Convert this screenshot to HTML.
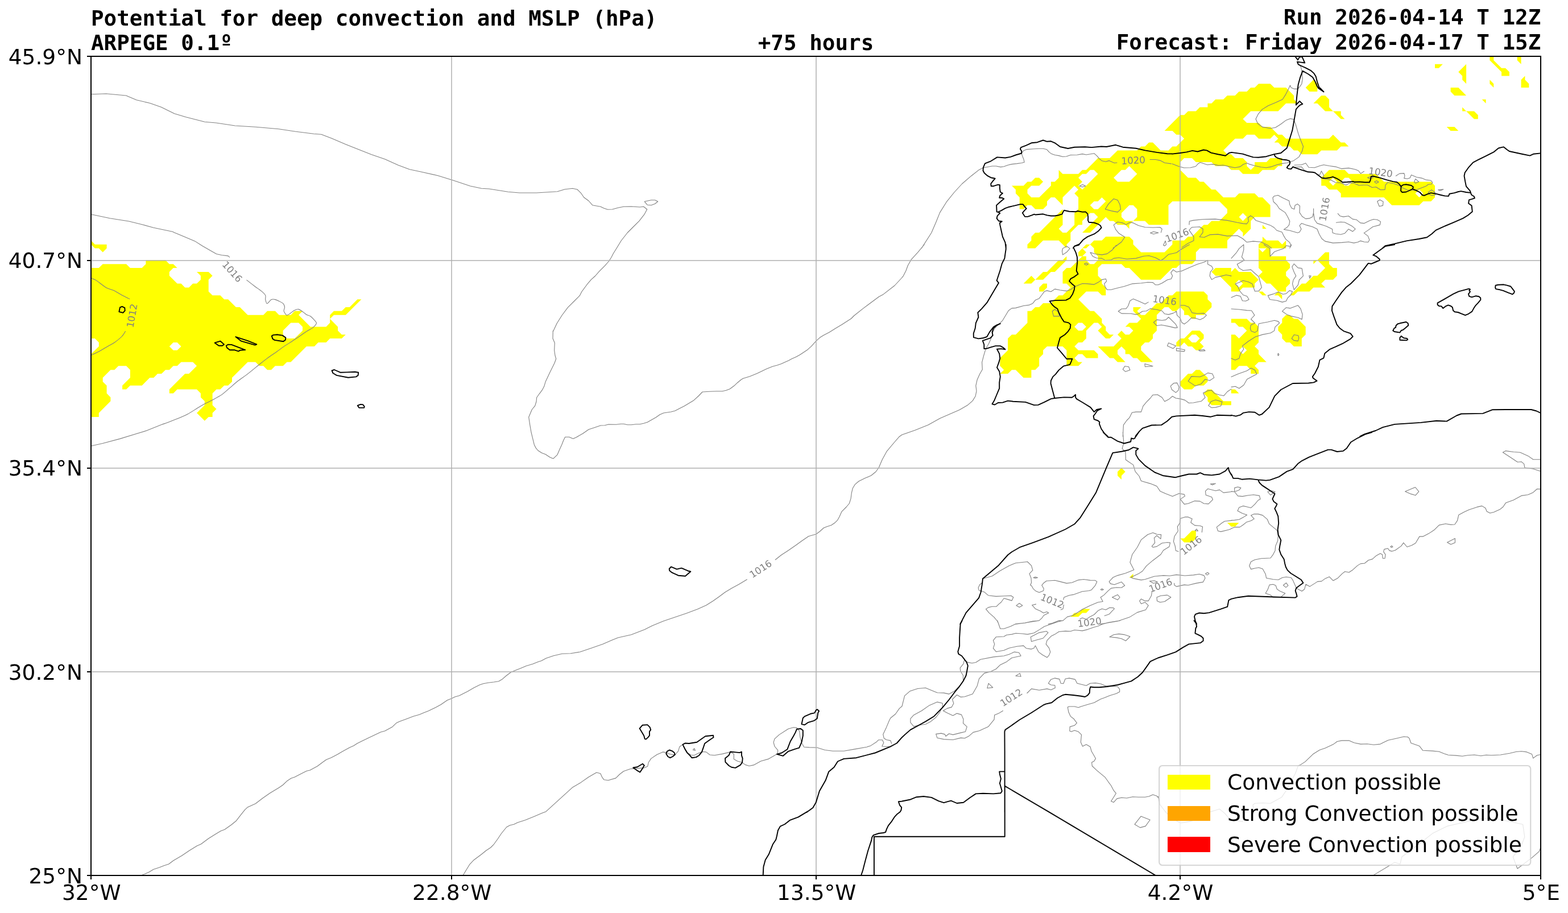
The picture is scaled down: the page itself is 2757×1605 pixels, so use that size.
<!DOCTYPE html>
<html lang="en"><head><meta charset="utf-8"><title>Potential for deep convection and MSLP (hPa)</title>
<style>
html,body{margin:0;padding:0;background:#fff;}
body{width:2757px;height:1605px;overflow:hidden;position:relative;}
svg{position:absolute;left:0;top:0;display:block;}
.t{font-family:"DejaVu Sans Mono","Liberation Mono",monospace;font-weight:bold;font-size:37.6px;fill:#000;}
.k{font-family:"DejaVu Sans","Liberation Sans",sans-serif;font-size:37.5px;fill:#000;}
.c{font-family:"DejaVu Sans","Liberation Sans",sans-serif;font-size:16.7px;fill:#808080;text-anchor:middle;}
.g{fill:none;stroke:#808080;stroke-width:1.1;stroke-linejoin:round;stroke-linecap:round;}
.b{fill:none;stroke:#000;stroke-width:1.9;stroke-linejoin:round;stroke-linecap:round;}
.y{fill:#ffff00;stroke:none;}
</style></head><body>
<svg xmlns="http://www.w3.org/2000/svg" width="2757" height="1605" viewBox="0 0 2757 1605">
<defs><clipPath id="ax"><rect x="160" y="99" width="2549" height="1440"/></clipPath></defs>
<rect x="0" y="0" width="2757" height="1605" fill="#fff"/>
<g clip-path="url(#ax)">
<g class="y">
<path fill-rule="evenodd" d="M1999.4 264.4 1965 264.4 1951.2 278.1 1930.5 278.1 1923.6 285 1909.9 298.8 1903 298.8 1896.1 305.7 1868.5 305.7 1861.6 298.8 1861.6 312.6 1854.7 319.5 1847.9 319.5 1847.9 326.4 1827.2 347 1813.4 347 1806.5 340.1 1806.5 333.3 1813.4 326.4 1827.2 326.4 1834.1 319.5 1827.2 312.6 1820.3 312.6 1813.4 319.5 1806.5 319.5 1799.6 326.4 1779 326.4 1785.9 333.3 1785.9 340.1 1792.7 347 1792.7 367.7 1799.6 367.7 1806.5 360.8 1813.4 360.8 1820.3 367.7 1834.1 367.7 1841 360.8 1841 353.9 1847.9 347 1854.7 347 1868.5 360.8 1868.5 347 1889.2 326.4 1896.1 333.3 1889.2 340.1 1896.1 347 1896.1 367.7 1889.2 374.6 1889.2 395.3 1875.4 409.1 1868.5 409.1 1861.6 402.2 1868.5 395.3 1868.5 367.7 1827.2 409.1 1820.3 409.1 1813.4 415.9 1813.4 422.8 1806.5 429.7 1806.5 436.6 1820.3 436.6 1834.1 422.8 1861.6 422.8 1875.4 436.6 1875.4 429.7 1882.3 422.8 1882.3 409.1 1896.1 395.3 1903 395.3 1903 388.4 1916.7 374.6 1923.6 374.6 1930.5 381.5 1903 409.1 1916.7 409.1 1944.3 381.5 1951.2 388.4 1958.1 388.4 1965 395.3 1978.7 395.3 1985.6 402.2 1985.6 395.3 1992.5 388.4 2013.2 388.4 2020.1 395.3 2054.5 395.3 2054.5 360.8 2061.4 353.9 2144.1 353.9 2157.9 367.7 2157.9 374.6 2144.1 388.4 2130.3 388.4 2123.4 395.3 2116.5 395.3 2095.9 415.9 2089 415.9 2082.1 422.8 2061.4 422.8 2061.4 429.7 2047.6 443.5 2006.3 443.5 1992.5 429.7 1992.5 422.8 1985.6 415.9 1944.3 415.9 1937.4 422.8 1923.6 422.8 1916.7 429.7 1923.6 436.6 1923.6 443.5 1930.5 450.4 1930.5 457.3 1923.6 464.2 1916.7 464.2 1909.9 457.3 1909.9 450.4 1903 450.4 1882.3 471.1 1875.4 471.1 1868.5 477.9 1868.5 498.6 1875.4 498.6 1882.3 505.5 1868.5 519.3 1861.6 519.3 1847.9 533.1 1834.1 533.1 1827.2 540 1820.3 540 1813.4 546.8 1806.5 546.8 1806.5 567.5 1785.9 588.2 1779 588.2 1772.1 595.1 1772.1 615.8 1758.3 629.5 1758.3 643.3 1765.2 650.2 1758.3 657.1 1772.1 657.1 1779 650.2 1785.9 650.2 1799.6 664 1813.4 664 1813.4 650.2 1820.3 650.2 1827.2 643.3 1827.2 629.5 1834.1 622.6 1834.1 615.8 1841 608.9 1868.5 608.9 1875.4 615.8 1875.4 643.3 1896.1 643.3 1903 636.4 1896.1 636.4 1889.2 629.5 1896.1 622.6 1903 622.6 1909.9 629.5 1930.5 629.5 1930.5 622.6 1923.6 615.8 1896.1 615.8 1889.2 608.9 1896.1 602 1903 602 1909.9 595.1 1909.9 581.3 1923.6 567.5 1930.5 567.5 1937.4 574.4 1930.5 581.3 1944.3 595.1 1951.2 595.1 1958.1 588.2 1951.2 588.2 1944.3 581.3 1944.3 574.4 1937.4 567.5 1937.4 560.6 1923.6 546.8 1916.7 546.8 1896.1 526.2 1909.9 512.4 1930.5 512.4 1937.4 519.3 1944.3 519.3 1944.3 505.5 1937.4 498.6 1937.4 491.7 1930.5 484.8 1930.5 471.1 1937.4 464.2 1971.9 464.2 1978.7 471.1 1985.6 471.1 2006.3 491.7 2040.8 491.7 2061.4 471.1 2068.3 471.1 2075.2 464.2 2095.9 464.2 2102.8 457.3 2102.8 450.4 2102.8 443.5 2109.6 436.6 2130.3 436.6 2157.9 436.6 2157.9 422.8 2178.5 402.2 2185.4 409.1 2185.4 415.9 2199.2 402.2 2199.2 388.4 2206.1 381.5 2233.6 381.5 2233.6 360.8 2219.9 347 2213 347 2206.1 340.1 2178.5 340.1 2171.6 347 2151 347 2137.2 333.3 2130.3 333.3 2123.4 326.4 2116.5 319.5 2109.6 319.5 2102.8 312.6 2089 312.6 2075.2 298.8 2075.2 285 2082.1 278.1 2095.9 278.1 2102.8 285 2123.4 285 2130.3 285 2137.2 291.9 2157.9 291.9 2164.8 298.8 2178.5 298.8 2185.4 305.7 2213 305.7 2219.9 298.8 2240.5 298.8 2247.4 291.9 2254.3 291.9 2254.3 278.1 2233.6 278.1 2226.8 285 2206.1 285 2206.1 291.9 2199.2 298.8 2192.3 291.9 2192.3 285 2185.4 278.1 2171.6 278.1 2164.8 271.2 2157.9 271.2 2151 264.4 2171.6 243.7 2185.4 243.7 2192.3 236.8 2206.1 236.8 2213 243.7 2233.6 243.7 2240.5 236.8 2247.4 243.7 2240.5 250.6 2247.4 250.6 2254.3 257.5 2268.1 257.5 2275 264.4 2281.9 264.4 2288.8 271.2 2316.3 271.2 2323.2 264.4 2350.8 264.4 2357.7 257.5 2371.4 257.5 2364.5 250.6 2357.7 250.6 2343.9 236.8 2337 243.7 2261.2 243.7 2254.3 236.8 2247.4 236.8 2233.6 223 2219.9 223 2213 216.1 2192.3 216.1 2185.4 209.2 2199.2 195.5 2247.4 195.5 2261.2 181.7 2281.9 181.7 2275 174.8 2275 167.9 2261.2 154.1 2240.5 154.1 2233.6 147.2 2213 147.2 2206.1 154.1 2199.2 154.1 2192.3 161 2178.5 161 2171.6 167.9 2157.9 167.9 2151 174.8 2137.2 174.8 2130.3 181.7 2123.4 181.7 2123.4 188.6 2109.6 188.6 2102.8 195.5 2089 195.5 2082.1 202.3 2075.2 202.3 2061.4 216.1 2047.6 229.9 2061.4 229.9 2068.3 236.8 2075.2 236.8 2082.1 243.7 2068.3 257.5 2061.4 257.5 2054.5 264.4 2040.8 264.4 2027 250.6 2020.1 250.6 2013.2 257.5 2006.3 257.5ZM1978.7 388.4 1971.9 381.5 1971.9 374.6 1985.6 360.8 1992.5 360.8 1999.4 367.7 1999.4 381.5 1992.5 388.4ZM1978.7 298.8 1985.6 291.9 1999.4 305.7 1985.6 319.5 1965 319.5 1958.1 312.6 1971.9 298.8ZM1896.1 312.6 1903 305.7 1909.9 305.7 1916.7 298.8 1923.6 298.8 1930.5 305.7 1903 333.3 1896.1 326.4 1903 319.5ZM1930.5 353.9 1937.4 347 1944.3 353.9 1930.5 367.7 1923.6 367.7 1916.7 360.8 1923.6 353.9ZM1903 567.5 1909.9 574.4 1903 581.3 1896.1 581.3 1889.2 574.4 1896.1 567.5ZM2185.4 388.4 2178.5 381.5 2185.4 374.6 2192.3 381.5ZM160 422.8 160 429.7 166.9 436.6 173.8 436.6 180.7 443.5 187.6 436.6 187.6 429.7 166.9 429.7ZM1916.7 429.7 1909.9 429.7 1903 436.6 1909.9 436.6ZM1903 436.6 1896.1 443.5 1896.1 450.4 1903 450.4 1909.9 443.5ZM1820.3 491.7 1834.1 491.7 1847.9 477.9 1854.7 477.9 1875.4 457.3 1875.4 450.4 1868.5 457.3 1861.6 457.3 1841 477.9 1834.1 477.9ZM1820.3 491.7 1813.4 484.8 1799.6 498.6 1813.4 498.6ZM1841 505.5 1841 498.6 1834.1 498.6 1827.2 505.5 1827.2 512.4 1834.1 512.4ZM587.1 546.8 580.2 553.7 580.2 560.6 587.1 553.7 607.8 553.7 635.4 526.2 628.5 526.2 614.7 540 607.8 540 600.9 546.8ZM1971.9 581.3 1965 588.2 1971.9 595.1 1958.1 608.9 1930.5 608.9 1937.4 615.8 1951.2 629.5 1958.1 629.5 1965 636.4 1978.7 636.4 1965 622.6 1965 615.8 1971.9 608.9 1978.7 615.8 1978.7 622.6 1985.6 622.6 1992.5 629.5 1999.4 629.5 2006.3 636.4 2027 636.4 2006.3 615.8 2006.3 608.9 2013.2 602 2020.1 602 2027 595.1 2027 588.2 2033.9 581.3 2033.9 553.7 2047.6 540 2054.5 540 2061.4 546.8 2068.3 546.8 2075.2 540 2082.1 546.8 2082.1 553.7 2089 553.7 2095.9 560.6 2102.8 560.6 2102.8 553.7 2116.5 553.7 2130.3 540 2130.3 533.1 2123.4 526.2 2123.4 519.3 2116.5 512.4 2102.8 512.4 2068.3 512.4 2061.4 519.3 2054.5 519.3 2040.8 533.1 2033.9 533.1 2013.2 553.7 2006.3 553.7 1999.4 546.8 2006.3 540 1992.5 540 1992.5 546.8 1999.4 553.7 2006.3 560.6 1999.4 567.5 1985.6 567.5 1978.7 574.4 1985.6 574.4 1992.5 581.3 1985.6 588.2 1978.7 588.2ZM173.8 726 194.4 705.3 194.4 698.4 187.6 691.5 187.6 677.8 180.7 670.9 180.7 664 194.4 650.2 201.3 650.2 208.2 643.3 222 643.3 228.9 650.2 228.9 664 215.1 677.8 215.1 684.6 222 684.6 228.9 677.8 249.6 677.8 263.3 664 270.2 664 277.1 657.1 284 657.1 290.9 650.2 297.8 650.2 304.7 643.3 311.6 643.3 318.5 636.4 339.1 636.4 346 643.3 332.2 657.1 325.3 657.1 297.8 684.6 297.8 691.5 304.7 691.5 311.6 684.6 346 684.6 352.9 691.5 352.9 698.4 359.8 705.3 359.8 712.2 346 726 359.8 739.8 366.7 732.9 373.6 732.9 373.6 726 380.5 719.1 373.6 712.2 373.6 691.5 380.5 684.6 387.3 684.6 394.2 677.8 401.1 677.8 408 670.9 408 664 435.6 636.4 449.3 636.4 456.2 643.3 463.1 643.3 470 650.2 476.9 650.2 483.8 643.3 497.6 643.3 504.5 636.4 511.3 636.4 538.9 608.9 552.7 608.9 559.6 602 573.4 602 580.2 595.1 600.9 595.1 607.8 588.2 600.9 588.2 594 581.3 594 574.4 580.2 560.6 580.2 567.5 573.4 574.4 545.8 574.4 525.1 553.7 532 546.8 518.2 546.8 511.3 553.7 490.7 553.7 483.8 546.8 470 546.8 463.1 553.7 435.6 553.7 421.8 540 414.9 540 401.1 526.2 394.2 526.2 387.3 519.3 373.6 519.3 366.7 512.4 366.7 491.7 373.6 484.8 366.7 477.9 346 477.9 352.9 484.8 352.9 491.7 346 498.6 339.1 498.6 332.2 505.5 325.3 505.5 318.5 498.6 311.6 498.6 297.8 484.8 297.8 477.9 304.7 471.1 311.6 471.1 304.7 464.2 297.8 464.2 290.9 457.3 256.4 457.3 256.4 464.2 249.6 471.1 228.9 471.1 222 464.2 180.7 464.2 173.8 471.1 160 471.1 160 595.1 166.9 595.1 173.8 602 173.8 608.9 160 622.6 160 732.9 173.8 732.9ZM511.3 567.5 525.1 567.5 532 574.4 532 581.3 518.2 595.1 504.5 595.1 497.6 588.2 497.6 581.3ZM311.6 602 318.5 608.9 311.6 615.8 304.7 615.8 297.8 608.9 304.7 602ZM1971.9 836.2 1978.7 829.3 1971.9 822.4 1965 829.3 1965 836.2 1971.9 843.1ZM1992.5 1015.4 1992.5 1008.5 1985.6 1015.4ZM1903 1077.4 1909.9 1077.4 1916.7 1070.5 1903 1070.5 1896.1 1077.4 1889.2 1077.4 1882.3 1084.3 1896.1 1084.3ZM2219.9 402.2 2226.8 402.2 2219.9 395.3ZM2213 471.1 2219.9 477.9 2213 484.8 2219.9 491.7 2226.8 498.6 2233.6 498.6 2247.4 512.4 2261.2 512.4 2261.2 505.5 2268.1 498.6 2268.1 491.7 2261.2 484.8 2261.2 477.9 2268.1 471.1 2268.1 464.2 2261.2 457.3 2261.2 450.4 2233.6 450.4 2233.6 436.6 2261.2 436.6 2261.2 422.8 2254.3 429.7 2247.4 422.8 2226.8 422.8 2219.9 415.9 2219.9 422.8 2213 429.7 2213 436.6ZM2226.8 436.6 2219.9 443.5 2213 436.6ZM2130.3 477.9 2137.2 484.8 2144.1 484.8 2164.8 505.5 2164.8 512.4 2178.5 512.4 2185.4 505.5 2206.1 505.5 2206.1 498.6 2213 491.7 2199.2 477.9 2178.5 477.9 2171.6 471.1 2164.8 477.9 2164.8 471.1 2137.2 471.1ZM2185.4 498.6 2178.5 505.5 2171.6 498.6 2178.5 491.7ZM2219.9 512.4 2213 512.4 2219.9 519.3 2226.8 519.3ZM2116.5 588.2 2109.6 581.3 2095.9 581.3 2082.1 595.1 2075.2 595.1 2068.3 602 2068.3 608.9 2075.2 608.9 2082.1 602 2089 608.9 2095.9 608.9 2102.8 615.8 2109.6 615.8 2116.5 608.9 2109.6 602 2116.5 595.1ZM2102.8 588.2 2109.6 595.1 2102.8 602 2095.9 602 2089 595.1 2095.9 588.2ZM2226.8 636.4 2213 622.6 2213 615.8 2206.1 608.9 2213 602 2213 574.4 2206.1 567.5 2199.2 567.5 2192.3 560.6 2164.8 560.6 2164.8 567.5 2171.6 567.5 2178.5 574.4 2185.4 574.4 2192.3 581.3 2178.5 595.1 2171.6 588.2 2164.8 588.2 2164.8 650.2 2171.6 650.2 2178.5 643.3 2185.4 643.3 2192.3 643.3 2199.2 650.2 2199.2 657.1 2213 657.1 2213 650.2 2206.1 643.3 2213 636.4ZM2192.3 615.8 2185.4 622.6 2178.5 615.8 2185.4 608.9ZM2075.2 670.9 2075.2 677.8 2082.1 684.6 2095.9 684.6 2102.8 677.8 2116.5 677.8 2123.4 670.9 2123.4 664 2109.6 650.2 2102.8 650.2 2095.9 657.1 2089 657.1ZM2164.8 684.6 2164.8 691.5 2178.5 691.5 2171.6 684.6ZM2130.3 712.2 2164.8 712.2 2164.8 705.3 2151 705.3 2130.3 684.6 2123.4 684.6 2116.5 691.5 2123.4 698.4 2123.4 705.3ZM2178.5 918.9 2164.8 918.9 2157.9 918.9 2164.8 925.8 2171.6 925.8ZM2095.9 953.4 2102.8 946.5 2102.8 932.7 2095.9 932.7 2082.1 946.5 2075.2 946.5 2082.1 953.4ZM2667.7 99 2667.7 105.9 2674.6 112.8 2674.6 99ZM2626.3 99 2619.4 99 2619.4 105.9 2640.1 126.6 2640.1 133.4 2653.9 133.4 2653.9 126.6 2647 119.7 2640.1 119.7 2626.3 105.9ZM2523 119.7 2529.9 119.7 2536.8 112.8 2523 112.8ZM2578.1 147.2 2578.1 112.8 2564.3 126.6 2571.2 133.4 2571.2 140.3ZM2688.3 154.1 2688.3 147.2 2681.4 140.3 2681.4 133.4 2674.6 140.3 2674.6 154.1ZM2619.4 147.2 2626.3 154.1 2626.3 147.2 2619.4 140.3ZM2316.3 147.2 2309.4 140.3 2295.7 154.1 2302.5 161 2316.3 161ZM2578.1 167.9 2564.3 154.1 2550.6 154.1 2550.6 161 2557.4 167.9ZM2343.9 195.5 2337 188.6 2337 181.7 2337 174.8 2330.1 167.9 2323.2 167.9 2309.4 181.7 2316.3 181.7 2330.1 195.5ZM2612.6 181.7 2612.6 174.8 2605.7 174.8ZM2571.2 195.5 2578.1 195.5 2571.2 188.6ZM2357.7 209.2 2364.5 209.2 2357.7 202.3 2357.7 195.5 2343.9 195.5ZM2598.8 202.3 2591.9 195.5 2578.1 195.5 2591.9 209.2 2598.8 209.2ZM2550.6 229.9 2564.3 229.9 2557.4 223 2543.7 223ZM2447.2 360.8 2495.4 360.8 2502.3 353.9 2516.1 353.9 2523 347 2523 326.4 2516.1 319.5 2433.4 319.5 2419.7 305.7 2412.8 305.7 2371.4 305.7 2364.5 298.8 2337 298.8 2323.2 312.6 2323.2 326.4 2330.1 326.4 2337 333.3 2350.8 333.3 2357.7 340.1 2357.7 347 2412.8 347 2433.4 347ZM2337 319.5 2343.9 312.6 2350.8 319.5 2343.9 326.4ZM2364.5 312.6 2371.4 312.6 2378.3 319.5 2371.4 326.4 2364.5 326.4 2357.7 319.5ZM2495.4 347 2488.5 340.1 2495.4 333.3 2502.3 340.1ZM2309.4 464.2 2316.3 457.3 2309.4 457.3ZM2337 464.2 2337 443.5 2330.1 443.5 2316.3 457.3 2330.1 471.1 2316.3 484.8 2309.4 484.8 2295.7 498.6 2288.8 498.6 2268.1 519.3 2275 519.3 2281.9 512.4 2302.5 512.4 2309.4 505.5 2330.1 505.5 2323.2 498.6 2330.1 491.7 2343.9 491.7 2350.8 484.8 2350.8 471.1 2343.9 471.1ZM2254.3 526.2 2254.3 519.3 2247.4 512.4 2240.5 519.3 2247.4 519.3ZM2295.7 574.4 2281.9 560.6 2275 560.6 2268.1 553.7 2261.2 553.7 2254.3 560.6 2254.3 567.5 2247.4 574.4 2247.4 581.3 2254.3 588.2 2254.3 595.1 2261.2 602 2268.1 602 2275 608.9 2288.8 608.9 2288.8 595.1 2295.7 588.2Z"/>

</g>
<g class="g">
<path d="M160 376.7L193.3 383.7 226.7 389 250 394.7 270 400.3 303.3 407.3 307 409 320.8 414.7 342.7 423.9 355.3 432 367.9 439.3 380.6 446.5 389.8 448.5 401.2 449.9 403.5 452.2M433.9 492.4C435.5 493.7 444 500.3 447.2 502.7C450.4 505.2 457.4 509.9 459.8 511.9C462.3 514 465.9 517.4 466.7 519.3C467.6 521.1 466.4 524.8 466.7 526.6C467.1 528.4 468.4 533.8 469.7 533.8C471 533.8 475.3 527.5 477.1 526.6C478.9 525.7 481.4 525.8 484 526.6C486.5 527.4 495.2 531.4 497.3 533.1C499.4 534.7 500.3 538.2 500.5 540C500.7 541.7 498.7 545.1 499.1 546.9C499.6 548.6 502.7 553.8 504.2 554.2C505.7 554.6 509.4 551.4 511.1 550.3C512.7 549.2 515.6 546.5 517.3 545.7C519 544.9 523 543.4 524.9 543.6C526.7 543.9 530.4 546.8 532.2 548C534 549.2 537.4 552.3 539.1 553.3C540.8 554.3 543.8 554.3 546 556C548.2 557.8 555.8 565.1 556.3 567.5C556.9 570 552.7 573.7 550.6 575.6C548.4 577.4 542 580.6 539.1 582.5C536.2 584.3 530.8 588.4 527.6 590.5C524.5 592.7 517.3 597.4 513.8 599.7C510.3 602 503 606.5 499.6 608.9C496.1 611.2 489.9 616 486.3 618.5C482.6 621.1 474.2 626.6 470.2 629.6C466.2 632.5 458.4 638.8 454.1 642.2C449.8 645.7 440.3 653.6 435.7 657.1C431.1 660.7 421.4 667.3 417.3 670.5C413.3 673.6 407 679.5 403.5 682.4C400.1 685.3 393.5 691.3 389.8 693.9C386 696.5 377.4 701.1 373.7 703.1C369.9 705.1 363.3 708.1 359.9 710C356.4 711.9 349.8 715.8 346.1 718C342.4 720.3 334.6 725.5 330 727.9C325.4 730.3 313.9 735.2 309.3 737.1C304.8 739 296.3 742.2 293.3 743.3C290.2 744.4 286.2 745.7 285.2 746.1M160 488.7C161.1 489.2 165.9 490.8 169.2 492.9C172.5 495 182.4 503.2 186.4 505.5C190.4 507.8 197.8 509.5 201.4 511.2C204.9 513 211.8 517.5 215.1 519.3C218.4 521.1 226.2 524.7 227.8 525.5M220.4 582.5C219.8 583.5 217.5 588.1 215.1 590.5C212.8 593 204.8 599.6 201.4 602C197.9 604.4 191 608 187.6 610C184.1 612.1 177.2 616.3 173.8 618.1C170.3 619.9 161.7 623.7 160 624.5M1133.3 354.3L1145 351.7 1151.7 351.7 1156.7 354.3 1151.7 358.3 1145 360.7 1138.3 360.3ZM160 165.7L186.7 164.7 221.7 168 240 175.7 263.3 181.3 283.3 188.3 306.7 199.7 326.7 205.7 360 214.3 380 216 413.3 221 450 223.3 490 226.7 520 231.3 551.7 235.3 565 236.3 583.3 243.3 606.7 253.3 626.7 261.3 653.3 271.7 676.7 279.7 700 290.3 720 297.7 740 302 770 308.7 796.7 317 826.7 327 846.7 331.3 860 332 893.3 337.3 913.3 339 943.3 339 980 336.7 993.3 332.7 1006.7 331.3 1015 333 1021.7 339.7 1026.7 347 1035 353 1041.7 360.7 1056 363.3 1061.7 366 1068.3 368.3 1076.7 368 1086.7 365.3 1096.7 363.3 1110 363 1125 364 1131.7 363.3 1137.7 368 1133.3 376.3 1124 388.3 1113.3 399 1103.3 409 1092.3 423 1085 435 1078.3 445.7 1075 452.3 1070.7 459 1063.3 467.3 1053.3 477.3 1046.7 485 1039.3 491.7 1031.7 500.7 1022.7 513 1019.3 519.7 1010 529 998.3 540.7 988.3 554 979.3 568.3 972.7 582.3 972.3 581.7 972 595 975.3 602.7 974.7 616 976 625 977.7 630.7 975 638.3 966.7 655 959.3 670.7 956.7 679.3 953.3 685.7 948.3 692.3 943.7 698.7 943 706 940.7 713.3 935.3 720 929.7 733.3 931.7 746.7 934 760 937.3 773.3 939.3 781.7 942.3 787.7 946 792 952.7 796.3 959.3 798.7 966.7 803.7 972.7 806.3 980 799.3 984 790 988 781.3 990.7 774.3 993.7 768.3 1000.7 768.3 1007.7 771.3 1013.3 768.7 1025 762 1035 755 1045 751.7 1056 748 1063.3 747.7 1070 746 1083.3 746.3 1091.7 745.3 1096.7 745.3 1103.3 746.7 1110 746.7 1118.3 745.7 1125 745.7 1131.7 744.3 1138.3 742.3 1153.3 733.7 1160 729 1166.7 726 1180 724 1186.7 722.3 1203.3 713.7 1220 703.7 1228.3 696 1235 689 1246.7 688.3 1260 687.7 1270 687.7 1276.7 686.3 1283.3 683.7 1290.7 678.3 1296.7 672.7 1303.3 667.3 1306.7 665.3 1318.3 661.7 1331.7 656.3 1348.3 648.3 1358.3 644.3 1366.7 642 1373.3 639.7 1386.7 633.7 1391.7 631 1400 627.3 1406 624 1420 614.7 1426.7 608.7 1435 599.3 1441.7 593.3 1448.3 589.3 1458.3 584 1468.3 577.7 1480 570.7 1491.7 563.3 1496.7 560M1540 829.3L1531.7 836 1520 841 1510 846 1503.3 851.7 1499.3 858.3 1497.3 866.7 1496 876.7 1493.3 885 1488.3 891 1480 899.3 1476 908.3 1472.7 914.3 1468.3 918.7 1461.7 923.3 1453.3 926 1448.3 928 1441.7 934 1435 939 1421.7 942.7 1410 950.7 1400 958 1386.7 967.3 1373.3 976 1363.3 984M1313.3 1018.7L1300 1026.7 1286.7 1034 1275 1041 1264.3 1049 1253.3 1056.7 1241.7 1064 1226.7 1070.7 1206.7 1078.3 1186.7 1085 1166.7 1091.7 1146.7 1100 1133.3 1106.7 1110 1115.7 1086.7 1121 1076.7 1125 1060 1132.3 1040 1139.3 1020 1146 1003.3 1148.7 988.3 1149.3 973.3 1152.7 960 1157.3 951.7 1161.7 946.7 1163.3 936.7 1167.3 925 1170.7 915 1175 906.7 1178.3 898.3 1181.7 890 1188 882.7 1194.3 876.7 1197.7 868.3 1199 858.3 1200.3 850 1201.7 843.3 1204 833.3 1209 821.7 1215.7 807.3 1223 800 1225 793.3 1228.3 786.7 1230.7 775 1238.7 766.7 1243.3 753.3 1249.7 745 1253 737.3 1256.3 726.7 1259.3 715 1263.7 703.3 1268 697.3 1270.7 690 1277.7 676.7 1285 669.3 1287 658.3 1292.3 648.3 1297 640 1301 628.3 1306.7 621.7 1311 615 1314 601.7 1321.3 593.3 1326.3 581.7 1332.3 574 1335.3 568.3 1339.3 558.3 1346.7 545 1354 539.3 1355.3 528.3 1360.7 518.3 1366 511.7 1368.3 505 1372.7 497.3 1380 490 1385 475 1394 461.7 1403.3 449.3 1412.7 435 1419.3 430.7 1423.3 423.3 1432.7 415 1443.3 406.7 1450 395 1458.3 388.3 1460.7 378.3 1466.7 366.7 1474 353.3 1484 346.7 1486.7 333.3 1495 320 1504 305 1512.7 296.7 1519 288.3 1521.7 280 1525 270 1528.3 261.7 1533.3 250 1538.3M814 1539L820 1529 826 1519.3 833.3 1511.7 846.7 1501.7 855 1495 862.7 1490 868.3 1484.3 875 1475 881.7 1465 890.7 1454 896.7 1450.7 903.3 1449.3 910 1446 923.3 1441.7 940 1435 953.3 1429.3 960 1426.7 1007 1383.9 1020.8 1375.9 1034.6 1366.3 1048.8 1358 1055.7 1359.8 1058.7 1366.3 1062.1 1370.8 1069.5 1371.8 1082.8 1367.9 1089.7 1361 1096.6 1355.7 1108.1 1351.8 1121.9 1350.6 1132.2 1349.9 1138.7 1347.2 1140.3 1340.3 1144.9 1333.4 1155.2 1326.5 1165.5 1321.9 1171.3 1323.1 1177 1325.4 1181.6 1326.5 1187.4 1326.5 1192.6 1320.3 1194.9 1312.7 1200.5 1308.8 1205.1 1317.3 1209.2 1323.5 1214.9 1327.2 1220.7 1327.7 1227.6 1324.2 1234.5 1321.5 1241.4 1321.9 1248.2 1327 1256.3 1327.7 1270.1 1325.4 1284.3 1321.9 1290.3 1325.4 1290.3 1334.5 1296.5 1338 1304.5 1340.3 1310.3 1344.4 1317.2 1346.5 1325.2 1344.9 1337.9 1338 1351.6 1334.1 1362 1328.1 1367.3 1324.2 1367.7 1318.9 1362 1312 1360.1 1305.1 1362 1298.9 1370 1291.6 1386.1 1281.2 1395.3 1278.7 1401 1279.4 1405.6 1285.1 1406.8 1295.5 1409.5 1305.8 1413.7 1313.2 1422.9 1313.9 1436.7 1314.3 1450.4 1318.5 1464.2 1320.3 1483.8 1320.3 1503.3 1316.9 1524 1313.2 1530.9 1310.9 1541.2 1304.2 1544.6 1300.8 1551.5 1300.8 1553.8 1305.8 1550.8 1312 1565.3 1312.7M1567.6 1307L1565.8 1301.9 1558.4 1300.5 1554.3 1297.8 1552.7 1290.9 1558.4 1278.9 1563.5 1266.8 1565.8 1262.2 1574.5 1255.3 1581.4 1245.4 1586 1241.5M1218.4 1318.5L1220.7 1315.7 1222.5 1319.2ZM1620.5 436.1L1637.7 409.2 1645.7 390.8 1652.6 373.6 1664.1 355.2 1677.9 338 1691.7 323 1707.8 309.2 1721.6 298.4 1728.5 295 1744.5 292 1751.4 292 1759.5 293.6 1765.2 292.7 1772.1 290.2 1779 288.6 1788.2 287.6 1796.2 286.5 1801.1 285.3 1800.1 280.5 1797.4 273.6 1796.2 269.5 1799.7 264.9 1805.4 262.6 1818.1 261.7 1827.2 261.2 1834.1 261.2 1840.6 262.8 1845.2 267.9 1849.1 270.6 1854.8 272.5 1861.7 273.6 1868.6 275.5 1875 275 1882.4 272.5 1893.9 272.2 1903.1 270.6 1910 272 1923.8 269.7 1928.3 273.6 1932.9 278.9 1937.5 282.8 1944.4 284.2 1950.2 282.4 1955.9 285.1 1959.4 286.5 1964 286M2022.1 280.5L2031.7 280.5 2039.8 282.1 2047.8 286.3 2059.3 287.9M1898 326.9L1903.5 324.6 1908.8 326.9 1903.1 328.8ZM1943.3 367.8L1949 358.6 1958.2 349.4 1965.1 351.7 1969.2 359.8 1970.4 367.8 1965.1 372.9 1953.6 370.6ZM2041.4 408.7L2043.2 402.7 2039.8 399.5 2027.1 400 2013.4 399.5 2001.9 396.5 1992.7 391.9 1986.9 390.8 1980 394.9 1974.3 391.9 1965.1 390.3 1958.2 395.4 1961.7 403.4 1967.4 410.3 1977.7 416.8 1972 425.3 1962.8 432.2 1957.1 436.1M2022.5 409.6L2028.3 407.3 2036.8 409.2 2028.3 411.5ZM2045.5 431L2049 423.4 2050.6 429.9 2047.8 432.2ZM1625.1 430L1613.6 443.8 1602.1 456.4 1596.3 466.8 1592.9 476 1588.3 485.1 1586 487.9M1586 764.3L1609 756.3 1632 747.1 1652.6 735.6 1671 727.5 1687.1 720.6 1700.9 712.6 1710.1 704.6 1715.1 696.5 1717 687.3 1715.8 678.1 1718.1 667.8 1722.7 657.5 1727.3 649.4 1726.6 636.8 1729.6 625.3 1733 613.8 1738.8 603.5 1744.5 590.8 1745.7 583.9 1749.1 577 1756 570.2 1762.9 563.3 1769.8 551.8 1773.3 546 1779 541.9 1785.9 541.4 1799.7 537.5 1810 536.1 1815.8 533.4 1820.4 527.6 1827.2 524.7 1831.8 518.5 1836.4 512.3 1841 510.9 1847.9 512.7 1854.8 508.1 1864 510 1875.5 511.6 1882.4 509.3 1888.1 504.7 1896.2 501.2 1903.1 498.5 1912.3 498.9 1923.8 500.1 1930.6 496.6 1937.5 491.6 1944.4 490.2 1945.6 494.3 1941.7 498.9 1943.3 504.7 1946.7 509.3 1953.6 509.3 1965.1 506.3 1976.6 503.5 1990.4 498.9 2006.5 497.8 2018 496.2 2027.1 496.6 2031.7 500.8 2036.3 500.8 2043.2 497.8 2052.4 492 2059.3 490.2 2061.6 485.1 2058.8 479.4 2062.8 474.1 2068.5 478.2 2077.7 476.4 2091.5 470.2 2105.3 464.5 2116.8 461 2123.6 457.6 2123.6 464.5 2130.5 467.9 2132.8 472.5 2128.2 478.2 2127.1 485.1 2130.5 491.6 2137.4 487.4 2146.6 485.6 2155.8 483.3 2165 485.1M1962.8 431.1L1955.9 439.2 1946.7 446.1 1937.5 447.9 1926 446.5 1916.9 443.8 1921.5 450.7 1928.3 453.7 1937.5 454.1 1943.3 457.6 1953.6 457.1 1958.2 454.1 1967.4 453 1981.2 455.3 1997.3 454.1 2011.1 450.2 2020.2 449.5 2031.7 453 2040.9 458 2045.5 455.3 2054.7 447.2 2068.5 444.2 2075.4 439.2 2086.9 432.3 2091.5 430M1868.6 436.9L1875.5 432.8 1881.2 436.9 1875.5 443.3 1868.6 447.9 1867.5 441.5ZM1906.5 464L1910 462.2 1913.4 464.5 1910 466.1ZM2019.1 531.1L2013.4 534.5 2001.9 529.3 1992.7 525.4 1986.9 528.8 1983.5 538 1980 542.6 1972 543 1966.3 547.2 1972 551.1 1988.1 551.3 1997.3 552.9 2001.9 551.8 2008.8 547.2 2015.7 546.7 2022.5 542.6 2034 544.2 2043.2 546.5 2047.8 551.8 2054.7 552.9 2062.8 550.6 2068.5 547.2 2069.6 554.1 2075.4 559.8 2077.7 566.7 2082.3 569.7 2088 565.6 2094.9 558.7 2100.7 559.1 2109.9 562.1 2116.8 558.7 2121.3 554.1 2116.8 550.6 2105.3 551.3 2096.1 549.9 2090.3 539.8 2082.3 536.8 2075.4 536.8M2028.3 566.7L2034 562.1 2043.2 563.3 2050.1 562.1 2054.7 557.5 2067.4 570.2 2070.3 575.9 2066.2 576.4 2054.7 573.6 2042.1 571.3 2034 572.5ZM1850.2 547.2L1854.8 543.7 1860.6 548.3 1862.9 555.9 1852.5 555.9ZM1974.3 649.4L1977.7 643.7 1984.6 644.8 1986.9 650.6 1978.9 653.3ZM2012.9 639.5L2027.1 643.7 2013.4 644.8ZM2052.4 608.1L2054.7 602.8 2067.4 608.1 2062.8 612.7ZM2068.5 612L2083.4 615 2082.3 617.9 2068.5 616.6ZM2107.6 615.6L2116.8 614.5 2119 616.6 2109.9 617.3ZM2089.2 670.1L2094.9 661.6 2109.9 662.5 2116.8 659.8 2123.6 655.6 2131.7 657 2134.7 663.9 2127.1 669 2119 666.7 2112.2 674.7 2101.8 678.6ZM2058.2 678.6L2063.9 673.5 2069.6 673.1 2073.1 680.4 2071.9 686.2 2067.4 690.1 2060.5 685ZM1974.3 767.1L1975.4 747.1 1981.2 739 1985.8 734.4 1990.4 725.2 1997.3 724.1 2006.5 724.1 2009.9 713.8 2015.7 706.9 2022.5 700 2027.1 694.2 2035.2 693.8 2043.2 698.8 2047.8 705.7 2054.7 702.3 2061.6 696.5 2067.4 700 2075.4 701.1 2083.4 703.4 2090.3 708.5 2098.4 708 2112.2 705.3 2119 698.8 2115.6 690.8 2123.6 686.9 2130.5 686.2 2135.1 691.5 2144.3 694.2 2151.7 695.8 2158.1 688.5 2165 683.9M2124.8 713.1L2129.4 705.7 2137.4 703 2148.9 706.4 2146.6 713.8 2137.4 716.1 2130.5 716.7ZM1974.3 760L1975.9 778.4 1973.1 788.7 1978.9 794.5 1979.4 808.2 1992.7 817.4 1996.1 828.9 2003 837 2006.5 845.5 2022.5 850.1 2034 854.7 2039.8 863.4 2050.1 868 2061.6 872.6 2073.1 867.5 2082.3 869.1 2083.4 872.1 2075.4 877.6 2082.3 886.4 2089.2 885.2 2100.7 880.6 2109.9 881.1 2116.8 885.2 2124.8 885.9 2132.4 878.3 2130.5 873.7 2120.2 870.3 2119.5 863.4 2123.6 859.3 2137.4 862.7 2144.3 861.1 2151.2 866.1 2165 864.5M2128.2 850.8L2137.4 850.1 2131.7 852.6ZM2071.9 969.5L2067.4 967.9 2066.2 959.9 2063.4 951.9 2065.1 942.7 2071.3 933.5 2070.3 925.9 2074.2 919.7 2075.4 911.6 2083.4 908.9 2089.2 908.9 2096.1 912.1 2093.8 918.5 2100.7 923.6 2109.9 924.3 2114.5 925.9 2113.3 935.8M2165 915.1L2153.5 916.2 2148.9 919 2139.3 926.6 2141.6 933.5 2146.6 934.6 2160.4 931.2 2165 929.6M1993.8 1001.7L1986.9 988.6 1990.8 974.8 1999.6 962.2 2006.5 948.9 2018 939.7 2027.1 936.5 2034 939.2 2041.6 939.9 2040.9 947.3 2034 941.5 2029.4 945.6 2030.6 954.1 2025.3 960.4 2027.1 962.2 2034 960.6 2043.2 954.8 2052.4 953.5 2057.5 954.1 2055.9 961 2045.5 967.5 2040.9 974.8 2027.1 985.2 2015.7 994.8 2008.8 1004 2001.9 1008.6 1990.4 1013.9 1988.1 1015 1992.7 1016.9 2006.5 1019.6 2013.4 1018.5 2022.5 1015.5 2029.4 1013.2 2045.5 1011.6 2057 1012.3 2068.5 1010.4 2083.4 1012 2098.4 1010.9 2108.7 1009.3 2116.8 1011.6 2119 1016.2 2115.6 1023.1 2103 1025.4 2089.2 1028.8 2082.3 1028.1 2068.5 1031.1 2065.1 1028.8 2064.6 1025.4M2025.3 1041.5L2024.4 1047.2 2019.1 1056.4 2013.4 1056.4 2006.5 1052.9 2003.7 1056.4 2006.5 1061.4 2013.4 1058.7 2019.1 1064.4 2014.5 1072 1999.6 1076.6 1985.8 1085.1 1965.1 1092 1944.4 1095.5 1935.2 1097.1M1993.8 1001.7L1978.9 1007.7 1965.1 1011.6 1957.1 1015 1950.2 1022.4 1952.5 1026.1 1959.4 1027.7 1972 1023.1 1977.7 1029.3 1972 1033 1962.8 1032.7 1953.6 1034.1 1947.9 1039.2 1941 1046.1 1935.2 1050 1939.1 1057.5 1930.6 1058.7 1916.9 1064.4 1903.1 1071.3 1887 1081.7 1876.6 1084.4 1868.6 1091.3 1861.7 1090.9 1850.2 1095.5 1843.3 1097.1M1955.5 1050L1965.1 1045.4 1969 1050 1965.1 1054.6ZM2034 1050L2040.9 1047.2 2052.4 1046.1 2058.8 1050 2047.8 1057.5 2039.8 1058.7 2034.5 1056.4ZM2021.4 1021.5L2029.4 1020.8 2035.2 1023.1 2028.3 1025.4ZM2119.5 1008.6L2123.6 1006.3 2125.9 1008.6 2122.5 1010.9ZM1935.2 1036.4L1937.5 1035 1940.3 1036.4 1937.5 1037.6ZM2101.1 932.8L2104.1 930 2106.4 933.5ZM1728 1017.3L1744.5 1012.7 1758.3 1003.5 1774.4 994.4 1785.9 989.8 1806.6 987.5 1813.5 994.4 1815.8 1002.4 1810 1008.6 1813 1016.2 1813.5 1024.2 1811.6 1028.8 1813.5 1029.3 1816.9 1035.3 1821.5 1039.2 1827.2 1041.5 1834.6 1038.5 1835.3 1035 1831.8 1028.8 1835.3 1024.7 1839.9 1021.2 1854.8 1020.3 1861.7 1021.9 1875.5 1025.4 1884.7 1024.2 1896.2 1019.6 1905.4 1018.5 1916.9 1020.1 1926 1020.3 1928.8 1022.6 1926 1028.8 1919.2 1036.9 1914.6 1038.5 1903.1 1039.8 1887 1045.4 1880.1 1046.5 1870.9 1050 1869.8 1054.1M1870.4 1063.3L1869.1 1070.2 1865.2 1072M1728 1023.8L1722.7 1027.7 1720 1033.4 1721.6 1038 1730.8 1040.8 1737.6 1046.7 1751.4 1048.4 1765.2 1047.7 1777.9 1047.2 1781.8 1050 1779 1055.9 1771.6 1053.6 1765.2 1051.8 1760.2 1058.7 1756 1062.1 1751.9 1066.3 1744.5 1066.3 1737.6 1067.9 1733.5 1070.6 1738.8 1077.1 1748 1085.1 1753.7 1092 1756 1097.1M1821.5 1062.1L1814.6 1063.7 1820.4 1070.2 1829.5 1074.3 1834.6 1077.5 1840.6 1075.5 1843.8 1077.5 1835.3 1081.7 1831.8 1086.7 1827.2 1090.9 1815.8 1092.7 1802 1095 1785.9 1097.1M1787 1064.4L1792.3 1060.5 1797.8 1064.4 1792.3 1067.4ZM1816.9 1015.5L1820.4 1014.3 1824.5 1015.5 1820.4 1016.4ZM1942.1 1082.4L1950.2 1079.8 1955.9 1073.6 1959.4 1070.2 1957.8 1068.6 1950.9 1068.3 1944.4 1072 1937.5 1070.2 1930.6 1073.6 1923.8 1080.5 1916.9 1084 1910 1088.6 1903.1 1086.3 1898.9 1088.1M1753.7 1091L1758.8 1105.2 1765.2 1105.2 1776.7 1101.3 1785.9 1096.7 1802 1095.1 1815.8 1092.1 1827.2 1091M1868.6 1091L1859.4 1093.3 1845.6 1097.9 1836.4 1101.3 1827.2 1107.1 1818.1 1112.8 1806.6 1115.1 1797.4 1114 1785.9 1113.3 1779 1115.1 1769.8 1116.3 1765.2 1119 1751.4 1119.7 1746.4 1125.9 1748.7 1132.4 1746.4 1139.7 1751.4 1145.7 1765.2 1143.2 1774.4 1139.2 1788.2 1136.3 1799.7 1135.1 1804.3 1139.7 1813.5 1141.1 1818.1 1139.2 1820.4 1135.1 1826.1 1146.1 1833 1151.2 1841 1155.8 1844.5 1151.9 1846.8 1146.1 1844.5 1139.2 1839.2 1132.4 1841 1125.9 1847.9 1118.6 1854.8 1115.1 1861.7 1110.5 1873.2 1109.4 1882.4 1109.8 1889.3 1107.5 1903.1 1108.9 1912.3 1106.6 1923.8 1102.5 1930.6 1100.7 1937.5 1097.4 1949 1094.4 1962.8 1092.1 1969.7 1091M1812.3 1119.7L1827.2 1112.1 1839.9 1109.8 1842.9 1112.1 1834.1 1122 1822.7 1125 1813.5 1127.8ZM1950.9 1119.7L1958.2 1115.8 1967.4 1114.4 1976.6 1115.6 1986.9 1119 1979.4 1126.6 1972 1122.7 1962.8 1120.9ZM1695.8 1159.2L1700.9 1164.1 1708.9 1165.7 1715.8 1164.5 1723.9 1159.2 1746.8 1154.9 1765.2 1153 1774.4 1150.3 1783.6 1146.1 1791.6 1147.3 1795.1 1153 1779 1156.5 1769.8 1163.4 1758.3 1169.1 1751.4 1176 1742.2 1180.6 1730.8 1183.4 1721.6 1193.2 1718.1 1205.9 1710.1 1220.1 1696.3 1224.7 1689.4 1225.4 1682.5 1221.5 1674.5 1229.5 1676.8 1236.4 1673.3 1243.1 1665.3 1245.4 1658.4 1249.5 1666.4 1253.7 1675.6 1258 1682.5 1254.1 1690.5 1256.4 1694 1264.5 1693.5 1271.4 1700.2 1277.6 1697.4 1286.3 1689.4 1288.1 1675.6 1291.6 1668.7 1289.7 1663 1294.3 1661.4 1290.9 1654.9 1289.1 1645.7 1290.4 1648 1297.3 1659.5 1299.6 1675.6 1300.5 1689.4 1297.1 1696.3 1297.8 1703.2 1294.3 1711.2 1287.4 1721.6 1284.7 1737.6 1277.6 1748 1264.9 1748.7 1256.9 1756 1254.1 1763.4 1249.5M1805.9 1218.5L1813.5 1210.9 1827.2 1213.2 1841 1210.9 1847.9 1212.8 1855.3 1209.3 1854.8 1204.7 1847.9 1204 1843.3 1201.3 1847.9 1194.4 1854.8 1192.1 1862.9 1193.9 1865.2 1201.3 1869.8 1201.7 1873.2 1193.2 1880.1 1192.1 1890.4 1194.4 1893.9 1201.3 1910 1205.2 1916.9 1201.3 1926 1200.6 1935.2 1202 1944.4 1205.9 1965.1 1207 1968.6 1211.6 1968.6 1216.2 1962.8 1219.2 1951.3 1222.7 1942.1 1226.6 1935.2 1228.9 1923.8 1235.3 1912.3 1238.5 1900.8 1242 1896.2 1243.8 1889.3 1242 1880.1 1242 1877.3 1243.1 1878.9 1251.8 1882.4 1259.4 1888.1 1263.8 1893.4 1270.9 1889.3 1275.3 1881.2 1277.6 1880.8 1285.1 1883.5 1286.3 1889.3 1284 1896.2 1286.3 1901.5 1291.6 1900.3 1304.7 1903.5 1312 1910 1308.8 1916.9 1312.7 1919.2 1320.8 1923.3 1327.7 1926.5 1333.4 1923.8 1338 1919.6 1340.3 1920.3 1346.5 1928.3 1354.1 1935.2 1359.8 1943.3 1366.7 1949 1374.8 1953.6 1381 1958.2 1389.7 1962.3 1394.7 1958.2 1401.2 1953.6 1408.5 1958.2 1410.4 1964 1403.9 1972 1402.3 1981.2 1403 1991.5 1400.7 2001.9 1401.2 2013.4 1401.2 2020.2 1400 2027.1 1397 2034 1399.3 2036.8 1402.3M1586 1241.5L1590.6 1223.1 1599.8 1215.1 1613.6 1210.5 1627.4 1209.3 1638.8 1213.9 1648 1217.8 1659.5 1218.1 1668.7 1220.1 1677.9 1215.1 1688.2 1204.7 1693.5 1196.7 1693.5 1187.5 1688.7 1179.5 1688.2 1174.2 1694 1166.8 1695.8 1159.2M1606.7 1277.1L1600.9 1270.2 1600.9 1263.3 1606.7 1256.9 1620.5 1249.5 1634.2 1239.9 1648 1234.1 1657.2 1236.2 1657.2 1242.6 1652.6 1251.8 1645.7 1261 1636.5 1268.4 1627.4 1273.2 1615.9 1274.8ZM1735.8 1209.8L1738.1 1201.3 1745.7 1208.6ZM1785.9 1188.2L1793.2 1183.6 1795.1 1189.3ZM2280.4 108.2L2282.7 112.8 2287.3 117.4 2288.9 124.3 2290.3 138.1 2288.9 147.2 2285 153 2281.6 156.4 2275.8 156.4 2270.1 154.1 2268.5 150 2265.5 156.4 2260.9 165.6 2255.1 174.8 2242.5 180.6 2229.9 185.8 2219.5 192.1 2212.6 200.1 2208 209.3 2211.5 217.3 2219.5 223.1 2233.3 225.8 2242.5 224.2 2251.7 218.5 2260.9 211.6 2268.9 208.6 2274.7 209.7 2278.1 218.5 2282.7 234.6 2287.3 247.2 2291.5 257.5 2289.6 265.6 2283.9 275.9 2274.7 282.4 2263.2 286.3 2255.1 287.4 2244.8 289.7 2235.6 293.1 2226.4 294.8 2217.2 293.8 2205.8 291.3 2196.6 288.6 2192.4 286.7 2186.2 288.8 2180.5 293.1 2171.3 294.8 2162.1 293.1 2150.6 290.2 2142.6 290.9 2132.2 288.6 2123 289.7 2110.4 285.6 2107 287.4 2102.4 292.5 2093.2 294.8 2081.7 295 2072.5 292.5 2061 287.9M2275.8 290.2L2288.5 289.7 2295.8 286.7 2301.1 294.3 2311.4 294.8 2320.6 291.5 2327.5 289.7 2336.7 291.5 2348.2 293.1 2358.5 296.6 2371.2 295.4 2382.7 297.7 2388.4 300 2392.5 305.1 2398.3 301.2M2454.4 309.2L2460.8 305.1 2468.8 304.6 2470 309.2 2468.8 313.4 2474.6 314.3 2479.2 312.7 2481.5 307.6 2490.7 311.5 2499.8 313.1 2506.7 316.1 2515.9 317.3 2518.7 320.7 2517.1 323.7 2511.3 324.2 2506.7 327.6 2497.5 331.1 2488.4 334.5 2474.6 333.8 2467.7 331.1 2460.8 326.5 2451.6 323 2440.1 320.7 2436 325.3 2435.1 333.4 2427.5 333.8 2419.4 328.8 2412.5 329.5 2404.5 325.3 2397.6 325.3 2389.6 326 2380.4 321.9 2373.5 321.4 2366.6 325.3 2357.4 321.4 2348.2 320.7 2339 316.1 2332.1 315 2326.4 314.5 2327.5 308.1 2323.4 300.7 2320.6 306.9 2317.2 307.6M2275.8 293.8L2288.5 293.4 2293.1 298.9 2300 302.3M2486.5 320L2488.8 314.5 2494.8 319.6 2488.8 321.9ZM2416.7 319.6L2420.6 317.7 2424 320 2419.9 322.3ZM2404.5 312.2L2410.2 310.4 2414.8 312.2 2409.1 314.5ZM2528.6 333.8L2537.8 332.9 2532 335.2ZM2421.7 354L2426.3 351.3 2432.1 354.5 2431.4 361.4 2425.2 362.8ZM2511.3 338L2517.1 333.8 2522.8 338 2524 342.5 2518.2 343.7 2512.5 341.4ZM2090.9 394.9L2091.3 389 2097.8 387.4 2116.1 385.5 2136.8 385.1 2157.5 387.4 2175.9 391.3 2186.2 393.1 2192 393.6 2195.4 389 2194.3 382.8 2198.9 379.3 2203.5 382.1 2208 387.4 2219.5 391.3 2233.3 395.9 2240.2 400 2244.8 405 2254 408 2257.4 414.9 2260.9 420.7 2267.8 426.4 2269.6 431.7 2267.8 436.1M2257.4 403.4L2263.2 399.5 2266.6 395.4 2267.8 389 2264.3 381.6 2259.7 373.6 2249.4 366.7 2244.8 359.8 2239.1 354.5 2237.9 347.6 2240.2 344.8 2247.1 343.2 2256.3 348.3 2266.6 352.9 2267.8 359.8 2271.2 366 2275.8 367.8 2277 360.9 2281.6 358.6 2285.5 362.1 2285 373.6 2289.6 380.5 2295.8 384.6 2302.2 383.9 2308 381.1 2309.6 373.6 2309.6 366.7M2309.6 374.7L2311.4 386.2 2316 392.6 2325.2 395.4 2332.1 397.7 2342.5 402.7 2343.1 409.2 2348.2 411 2357.4 412.2 2364.3 410.3 2371.2 402.7 2378.5 406.9 2383.1 402.7 2378.1 398.1 2371.2 394.2 2364.3 390.8 2357.4 390.3 2349.4 391.3M2257.4 403.4L2267.8 405.3 2281.6 409.2 2285 408 2288 402.7 2285 396.5 2288.5 392.6 2297.7 395.9 2308 398.8 2316 402.7 2319.5 411.5 2324.1 419.5 2329.8 424.1 2343.6 427.1 2359.7 426.4 2371.2 425.3 2380.4 427.1 2387.3 425.7 2391.9 423.4 2398.8 425.3 2405.6 425.7 2407.9 421.8 2405.2 414.9 2398.3 409.6 2405.6 404.6 2413.7 398.8 2426.3 395.4 2427.5 389.6 2421.7 386.2 2414.8 385.5 2407.9 388 2398.8 392.6 2391.9 391.9 2385 386.2 2378.1 385.1 2371.2 379.8 2362 381.1 2356.2 379.8 2352.3 375.4M2078.2 434.9L2088.6 428 2098.9 423 2098.9 416.1 2090.9 404.6 2095.5 399.5 2109.2 398.8 2115 402.3 2115 408.7 2109.2 416.5 2117.3 417.2 2127.6 412.6 2141.4 411.9 2157.5 414.9 2175.9 414.2 2185.1 419.5 2192 425.7 2203.5 424.1 2217.2 425.3 2228.7 431 2235.6 436.1M2165 454.1L2174.2 443.8 2178.8 436.9 2186.8 430 2186.8 439.2 2183.4 451.8 2188 457.6 2175.3 464.5 2178.8 471.4 2185.7 475.5 2199.5 474.1 2206.4 480.5 2213.2 486.3 2216 496.6 2218.3 505.4 2213.2 511.6 2206.4 512 2201.8 498.9 2194.9 495.5 2185.7 493.2 2178.8 496.6 2171.9 498.9 2176.5 503.5 2179.9 511.6 2185.7 518.5 2192.6 520.8 2196 526.5 2190.3 529.3 2184.5 528.8 2181.1 520.8 2174.2 519.1 2165 523.1M2222.4 430L2232.8 436.9 2233.2 450.7 2240.8 442.6 2250 439.2 2256.9 436.9 2261.5 431.8 2269.5 433.4 2270.7 430M2271.8 469.1L2275.3 463.8 2282.2 470.9 2289.1 471.8 2291.4 485.1 2284.5 492 2282.2 501.2 2275.3 509.3 2272.5 498.9 2274.1 492 2278.7 485.1 2275.3 478.2ZM2269.5 518.5L2272.5 512.3 2267.2 510.9 2261.5 516.2 2255.8 517.3 2247.7 513.2 2238.5 516.9 2229.3 519.6 2232.8 526.5 2245.4 528.3 2254.6 531.1 2261.5 529.3 2263.8 524.2ZM2254.6 547.2L2261.5 540.7 2268.4 541.9 2282.2 536.8 2286.8 542.6 2290.2 552.9 2289.1 561.4 2282.2 558.2 2270.7 555.9 2262.6 552.9ZM2165 543L2178.8 544 2192.6 545.6 2200.6 546 2205.9 554.1 2199.5 561 2206.4 567.9 2199.5 571.3 2198.3 577 2199.9 582.1 2206.4 584.4 2211 581.6 2212.1 574.8 2213.2 569 2229.3 566 2240.8 563.3 2247.7 565.1 2249.6 567.9 2242 574.8 2240.4 581.6 2233.9 585.5 2220.1 588.1 2207.5 592 2194.9 600 2184.5 608.1 2186.8 613.8 2181.1 621.9 2178.8 629.9 2171.9 632.9 2165 629.9M2271.2 595L2275.3 588.5 2282.6 589.7 2283.8 594.3 2282.2 599.6 2274.8 598.4ZM2165 662.5L2176.5 657.5 2192.6 651.7 2199.5 647.1 2206.4 650.6 2209.8 657.5 2192.6 666.7 2186.8 677 2178.8 682.7 2171.9 679.3 2165 680.4M2301.7 484.7L2305.2 485.1 2302.9 489.3ZM2246.6 622.5L2247.7 621.2 2248.9 623.5 2247.3 625.3ZM2708.8 859.9L2702.6 859.5 2695.8 865.7 2686.6 869.8 2675.1 871.4 2661.3 879 2647.5 884.1 2642.9 891 2637.2 895.6 2626.8 900.2 2619.9 902 2614.2 899 2611.9 893.3 2605.7 889.4 2597 891.4 2583.2 896 2574 900.2 2564.8 905.2 2562.5 915.1 2557.9 922 2551 922.4 2541.8 920.8 2530.3 923.1 2522.3 931.2 2511.9 938.1 2502.3 943.1 2495.9 943.1 2489 954.8 2482.1 958.7 2474 961.5 2467.8 954.1 2463.7 959.9 2453.4 967.2 2447.6 969.1 2443 967.9 2440.3 964 2433.8 965.6 2432.7 970.2 2436.1 974.8 2435 981.7 2431.5 981.7 2430.4 974.8 2426.9 973 2420 976.7 2413.1 982.9 2406.2 984.7 2399.4 990.2 2392.5 990.9 2386.7 994.4 2378.7 1001.7 2371.8 1006.3 2364.9 1004.7 2360.3 1008.1 2352.3 1016.2 2344.2 1020.8 2337.3 1013.9 2330.4 1016.9 2323.5 1021.9 2316.6 1022.4 2302.9 1031.1 2296 1027.2 2293.7 1035.7 2289.1 1039.2 2282.2 1035.7 2278.7 1032.3 2273 1019.6 2270.2 1015.5 2261.5 1014.3 2254.6 1015.5 2247.7 1019.2 2238.5 1018.5 2226.6 1016.2 2225.2 1009.3 2220.1 1000.1 2213.2 997.8 2206.4 999 2199.5 1000.6 2196.7 994.8 2199.5 987.5 2206.4 984 2217.8 981.7 2233.9 981 2238.5 974.8 2242 967.9 2242.7 959.9 2246.6 950.7 2247.3 941.5 2245.4 932.3 2238.5 926.6 2231.6 920.8 2228.2 912.8 2220.1 905.9 2212.1 903.6 2205.2 903.6 2199.5 905.9 2205.2 912.1 2199.5 915.5 2191.4 918.1 2185.7 922.7 2179.9 926.6 2171.9 926.6 2165 928.9M2165 863.9L2170.7 864.5 2176.5 871.9 2184.5 872.6 2194.9 870.7 2204.1 869.8 2214.4 871.4 2216 877.6 2212.1 879.5 2206.4 886.4 2199.5 892.8 2192.6 891 2185.7 889.4 2178.8 892.1 2176 897.9 2184.5 902.5 2192.6 905.2 2186.8 908.9 2178.8 913.3 2170.7 914.4 2165 914.6M2170.7 864.5L2170.7 857.6 2176.5 856 2181.8 857.6 2178.8 861.6 2171.9 863.9M2228.9 864.5L2236.2 862.7 2242 864.5 2233.9 870.3ZM2470.6 864.1L2488.5 856.5 2494.7 864.1 2489 870.7 2480.9 868.4ZM2544.6 953.5L2558.4 946.6 2558.4 954.1 2551 956.9ZM2444.8 961L2447.1 959.4 2449 961.3 2446.7 962.6ZM2256.4 1028.8L2261.5 1024.7 2264.9 1029.3 2261 1032.7ZM2225.2 1043.1L2229.3 1035.7 2232.1 1028.1 2238.5 1027.2 2243.1 1029.3 2245.4 1035.7 2251.2 1039.6 2259.7 1043.1 2252.3 1049.5 2238.5 1050 2233.9 1046.1ZM2708.8 807.8L2695.8 807.8 2686.6 801.4 2672.8 795.2 2661.3 794.5 2647.5 792.6 2642.4 795.2 2654.4 803 2668.2 812.2 2675.1 811.7 2679.7 815.6 2680.8 822 2695.8 824.3 2708.8 828.5M2708.8 1326.5L2702.6 1327.7 2695.8 1332.9 2693.5 1325.8 2684.3 1321.9 2675.1 1320.8 2665.9 1321.5 2654.4 1324.2 2638.3 1327 2622.2 1327.7 2613 1327.2 2603.8 1328.8 2592.4 1327 2580.9 1327.7 2571.2 1329.3 2560.2 1328.1 2546.4 1327.2 2539.5 1324.9 2530.3 1321.2 2518.8 1320.1 2501.6 1319.2 2495.9 1311.6 2480.9 1306.3 2477.9 1297.8 2475.2 1295.5 2468.3 1295 2454.5 1298.2 2440.7 1301.2 2426.9 1308.1 2415.4 1309.3 2404 1307.7 2392.5 1308.1 2381 1305.8 2371.8 1301.7 2359.1 1301.9 2351.1 1303.5 2344.2 1308.6 2330.4 1315 2320.1 1318.5 2308.6 1325.8 2294.8 1339.1 2286.8 1344.4 2282.6 1346 2277.6 1359.8 2266.1 1380.5 2261.5 1389.7 2253.5 1401.6 2233.9 1412.2 2220.1 1411.5 2206.4 1412.2 2202.9 1415 2204.1 1420.7M2036.4 1400L2039.5 1414.3 2049.1 1427 2061.8 1439.7 2076 1446.7 2090.3 1444.4 2109.4 1439.7 2128.4 1427 2144.3 1422.2 2153.8 1430.2 2163.3 1441.3 2185.6 1444.4M1995.1 1449.2L2006.2 1434.9 2022.1 1441.3 2014.1 1452.4 2004.6 1454.9ZM2415.7 1538.1L2439.5 1523.8 2452.2 1515.9 2461.8 1519 2464.9 1506.3 2477.6 1496.8 2496.7 1482.5 2518.9 1465.1 2544.3 1452.4 2579.2 1444.4 2607.8 1438.7 2633.2 1439.7 2677.6 1449.2 2680.8 1471.4 2674.5 1487.3 2660.2 1506.3 2668.1 1527 2674.5 1522.2 2693.5 1507.9 2706.2 1496.8 2708.7 1490.5M1496.7 560L1501.6 555 1517.5 542.4 1545.2 521.7 1553.2 517.4 1573 502 1586 488M1540 829.3L1545.2 822 1551.2 808 1559 793.7 1573 777 1581 767.8 1586 764.3M285.2 746L256.5 757.4 210.8 771.4 180.3 779.5 160 784"/>

</g>
<text class="c" transform="translate(408.6 477.5) rotate(48)" y="6.1">1016</text>
<text class="c" transform="translate(231.9 554.9) rotate(-80)" y="6.1">1012</text>
<text class="c" transform="translate(1337.3 1000) rotate(-33)" y="6.1">1016</text>
<text class="c" transform="translate(1992.7 281.7) rotate(-3)" y="6.1">1020</text>
<text class="c" transform="translate(2069.6 413.3) rotate(-20)" y="6.1">1016</text>
<text class="c" transform="translate(2047.8 527.6) rotate(8)" y="6.1">1016</text>
<text class="c" transform="translate(2094.2 958.7) rotate(-38)" y="6.1">1016</text>
<text class="c" transform="translate(2040.5 1028.8) rotate(-20)" y="6.1">1016</text>
<text class="c" transform="translate(1850.2 1056.4) rotate(22)" y="6.1">1012</text>
<text class="c" transform="translate(1915.7 1093.6) rotate(-8)" y="6.1">1020</text>
<text class="c" transform="translate(1777.9 1226.1) rotate(-33)" y="6.1">1012</text>
<text class="c" transform="translate(2427.5 302.8) rotate(8)" y="6.1">1020</text>
<text class="c" transform="translate(2328.7 367.8) rotate(-80)" y="6.1">1016</text>

<g stroke="#b0b0b0" stroke-width="1.5" fill="none">
<path d="M794 99V1539M1435 99V1539M2075 99V1539M160 458H2709M160 823H2709M160 1181H2709"/>
</g>
<g class="b">
<path d="M211 540.4L214.7 538.8 219.3 541.1 219.7 546.2 216.3 549.8 209.4 548ZM377.6 602.7L387.5 599.7 393.9 605.4 390.9 607.7 384.7 607.7ZM397.8 607.7L400.8 605.7 407 605.9 431.1 615.1 421.9 615.8 419.6 617.6 412.7 615.3 404 615.3 399 611.2ZM414.3 592.1L435.7 599.2 451.3 605.4 448.4 606.6 424.2 599.7ZM477.8 590.5L480.5 588.9 487.4 588.2 496.6 589.6 502.3 593.5 501.9 597.4 498.2 600.2 482.8 597.9 479.4 595.6ZM583.5 651.4L587.8 650 598.8 654.8 610.3 654.4 624.1 653.7 630.1 654.8 629.6 659.9 626 662.4 612.2 663.8 592 659.9 585.5 656ZM628.7 713L633.8 710.9 637.9 711.1 640.7 714.6 640.2 716.9 631.5 716.9ZM1180 996.3L1190 1000.7 1198.3 998.7 1210 1003.7 1214.3 1004.7 1205 1012.7 1192.7 1011.7 1181.7 1006.7 1177.3 1003.3 1176.7 1000ZM1124.6 1280.6L1129.5 1274.8 1138.4 1274.1 1142.6 1278.3 1144.2 1282.9 1141.9 1286.3 1142.1 1292.7 1139.8 1295.9 1135.7 1299.6 1133.8 1298.9 1132.2 1293.2 1128.8 1287.4ZM1113.2 1349.5L1120.7 1348.3 1129.9 1342.8 1132.9 1345.6 1129.9 1350.6 1125.3 1357.5 1119.6 1354.1ZM1171.3 1324.9L1172.9 1320.8 1177 1318.5 1181.6 1320.1 1185.5 1323.1 1186.9 1326.5 1182.8 1330 1178.2 1332.2 1174.3 1330ZM1200.5 1308.8L1204.6 1306.5 1211.5 1307 1225.3 1304.7 1240.2 1294.3 1254 1292.7 1254.5 1296.2 1246.4 1301.7 1239.1 1307 1236.8 1313.9 1234 1321.9 1229.4 1327.7 1224.1 1331.1 1216.5 1332.2 1212.6 1327.7 1208 1323.1 1204.6 1317.3ZM1284.3 1321.5L1293.1 1322.4 1300.6 1323.1 1303.9 1321.7 1303.9 1327.7 1305.7 1333.4 1305 1340.3 1301.8 1344.9 1293.1 1349.9 1286.2 1348.8 1281.6 1346 1275.4 1339.6 1275.1 1332.9 1281.6 1327.7ZM1366.1 1325.8L1374.6 1323.5 1384.3 1317.3 1389.6 1303.5 1395.3 1293.7 1398.7 1287.4 1401 1281.7 1407.9 1281 1411.8 1284 1411.8 1293.2 1409.5 1304.7 1405.2 1314.6 1397.6 1316.9 1386.1 1320.8 1376.9 1328.8ZM1409.5 1273L1411.8 1262.2 1414.8 1259.4 1425.2 1254.8 1432.1 1253.4 1434.8 1248.4 1437.1 1247.2 1440.1 1250 1438.3 1253 1436.7 1263.3 1431.6 1266.8 1420.6 1270.2 1414.8 1274.3ZM1586 1296.2L1576.8 1306.5 1565.3 1312.7 1538.9 1323.5 1505.6 1332.2 1483.8 1333.9 1473 1338.5 1466.5 1348.8 1457.3 1356.4 1451.6 1371.8 1440.8 1390.8 1434.8 1410.4 1429.3 1420 1418.3 1428.1M1768.7 436.1L1767.5 426.4 1762.9 416.1 1760.6 405.7 1758.3 395.4 1757.9 391.9 1761.8 389.2 1756 388.5 1752.6 383.9 1753.7 379.3 1758.3 374.7 1754.9 372.9 1752.6 372.4 1752.1 360.9 1758.3 355.2 1765.2 349.4 1761.8 347.8 1757.2 347.8 1758.3 343.7 1762.9 339.8 1758.8 337.5 1757.9 331.1 1757.9 325.3 1754.9 324.6 1746.8 327.2 1742.7 327.2 1742.2 323 1745.7 318.4 1749.6 313.8 1742.2 312.2 1736.5 309.2 1730.8 304.2 1728.5 300 1728.9 294.3 1731.9 287.4 1742.2 283.3 1753.3 276.4 1767.5 277.5 1776.7 275.9 1785.9 272.5 1796.2 269.5 1796.2 265.6 1793.9 262.1 1795.1 259.1 1804.3 255.7 1813.5 251.3 1823.8 250.2 1834.1 246.5 1841 248.8 1847.9 248.3 1854.8 251.3 1864 258 1877.8 261 1889.3 258.7 1907.7 258.2 1919.2 259.1 1936.4 257.5 1945.6 258 1961.7 254.8 1974.3 258.7 1997.3 260.8 2013.4 264.4 2034 267.9 2052.4 270.2 2060.9 270.4M1754.9 372.9L1760.6 370.1 1767.5 366.2 1774.4 363.7 1783.6 361.6 1793.9 359.1 1798.5 359.1 1802 363.7 1804.7 366.7 1800.8 370.6 1797.8 374.3 1802 380.7 1807 380.9 1813.5 378.6 1818.5 376.6 1820.4 377.5 1834.1 376.3 1841 378.4 1847.9 379.5 1854.8 379.5 1861.7 378.2 1867.5 376.3 1869.1 372.9 1870.9 369.7 1880.1 371.7 1891.6 372.2 1895 371 1903.1 372.6 1908.8 372.4 1912.3 375.9 1913.2 381.6 1913 387.4 1914.6 390.8 1923.8 391.5 1930.6 393.8 1934.8 396.5 1936.6 400.4 1931.8 405.7 1924.9 410.8 1912.3 416.1 1904.2 421.8 1898 429.2 1889.3 432.6 1887 436.1M1768.7 430L1768.7 438 1767.5 446.1 1766.4 454.1 1761.8 463.3 1758.3 476 1754.9 486.3 1752.6 493.2 1756 497.3 1746.8 512.7 1735.3 532.2 1726.2 542.6 1719.3 549.5 1720.4 557.5 1715.8 567.9 1714.7 577 1711.7 586.2 1711.9 593.1 1720.4 595.4 1728.5 594.3 1735.3 592 1739.9 583.9 1746.8 574.8 1752.6 571.3 1758.8 569 1751.4 572.5 1746.8 577 1744.5 583.9 1745.7 589.7 1741.1 594.3 1736.5 595.9 1727.8 598.9 1730.3 605.8 1730.3 613.1 1735.3 612.7 1742.2 610.4 1750.3 608.1 1758.8 608.1 1764.1 611.1 1767.5 614.3 1760.6 613.1 1753 613.8 1757.2 621.9 1758.3 629.9 1756 637.9 1753 646 1757.2 652.9 1758.8 662.1 1757.2 672.4 1757.2 682.7 1751.4 696.5 1748 704.6 1744.5 710.3 1749.1 711.5 1754.9 708 1762.9 707.6 1772.1 704.6 1781.3 705.7 1803.1 706.9 1818.1 712.1 1825.4 711.9 1836.4 706.9 1847.9 701.1 1854.4 700 1870.9 698.4 1884.7 698.8 1888.1 696.5 1891.1 693.8 1891.1 698.4 1892.7 701.1 1903.1 707.3 1917.5 716.1 1923.8 724.1 1928.3 720 1936.4 718.4 1929.5 721.8 1925.6 727.5 1922.6 731.4 1923.8 737.2 1930.6 739.5 1933.4 742 1932.9 745.2 1936.4 754 1942.1 762 1947.9 767.1M1897.3 430.5L1889.3 432.8 1887.4 435.1 1891.6 443.8 1893.9 451.8 1894.3 459.9 1893.4 469.1 1892.7 476 1895.5 481.7 1889.3 486.3 1882.4 490.2 1880.1 494.3 1884.7 498.9 1889.7 503.1 1888.8 509.3 1885.8 517.3 1881.2 524.2 1874.4 527.6 1854.8 528.1 1845.6 529.5 1850.2 535.7 1853.7 539.1 1859.4 543 1861.7 549.5 1866.3 558.7 1870.9 565.6 1878.9 567.4 1882.4 570.6 1881.7 577 1877.8 582.8 1872.1 588.5 1864 593.6 1861.7 601.2 1859 611.5 1867.5 621.4 1875.5 631 1885.4 630.6 1883.5 635.6 1881.2 640.9 1869.8 643.7 1861.7 650.6 1856 657.9 1851.4 662.1 1847.9 669 1847.5 674 1850.7 686.2 1854.4 700M1997.3 767.1L2003 758.6 2008.8 752.8 2024.8 747.5 2042.1 747.1 2052.4 740.2 2060.5 732.8 2068.5 731.4 2100.7 729.8 2114.5 731 2128.2 732.8 2139.7 729.8 2165 730.5M1939.8 760L1948.6 768.7 1953.6 768.7 1965.1 775.6 1976.6 779.5 1988.1 776.5 1989.2 770.3 1993.1 771.5 1995.4 770.3 1997.3 765.7 2001.9 760M1688.2 1097.1L1698.6 1077.1 1721.1 1051.1 1724.5 1041.5 1726.6 1028.8 1728 1017.3 1756 993.7 1772.1 975.5 1779 970.2 1792.8 962.2 1815.8 954.1 1843.3 943.8 1873.2 930.5 1889.3 921.3 1899.6 909.8 1912.3 889.8 1927.2 865.7 1944.4 824.3 1956.4 796.1 1972 793.8 1984.6 791 1992.7 786.4 2001.4 788.7 1997.3 792.2 1997.3 799.1 2001.9 807.1 2013.4 818.6 2030.6 830.5 2045.5 836.3 2066.2 839.3 2075.4 837 2090.3 833.5 2104.1 833.5 2110.3 831.2 2116.8 834.2 2130.5 835.4 2144.3 833.5 2154.7 827.8 2159.7 822 2161.1 827.8 2165 834.7M2165 1052.9L2160.4 1055.2 2158.1 1066.7 2146.6 1070.6 2125.9 1077.1 2116.8 1078.2 2108.7 1077.5 2101.8 1079.8 2100 1084 2101.8 1092 2104.1 1097.1M1691.7 1091L1688.7 1096.7 1687.8 1109.4 1687.1 1120.9 1687.1 1135.8 1684.3 1145.5 1685.3 1149.6 1691 1153 1695.8 1159.2 1699.7 1164.5 1701.8 1170.3 1700.2 1179.5 1698.6 1187.5 1694 1196.7 1685.9 1208.2 1679.1 1216.2 1668.7 1230 1657.2 1243.8 1642.3 1259.2 1627.4 1268.4 1613.6 1276 1600.9 1282.9 1591.7 1290.9 1586 1296.2M2099.5 1091L2103 1095.6 2104.1 1101.3 2102.3 1104.8 2101.4 1113.3 2106.4 1115.6 2112.2 1118.6 2115.6 1122 2115.6 1126.6 2111 1130.1 2090.3 1132.4 2080 1138.1 2067.4 1146.1 2052.4 1151.4 2036.3 1156.5 2022.5 1162.9 2015.7 1172.6 2008.8 1182.2 2000.7 1189.8 1989.2 1197.4 1976.6 1200.8 1965.1 1204 1946.7 1207 1932.9 1208.2 1923.8 1208.2 1917.3 1207.5 1916.2 1211.6 1915.7 1218.1 1912.3 1222.4 1907.7 1225 1900.8 1223.8 1887 1222 1873.2 1220.8 1868.6 1222 1859.4 1227 1849.1 1235.3 1838.7 1237.6 1834.1 1239.7 1813.5 1253 1792.8 1265.2 1774.4 1278.3 1767.5 1282.9 1766.4 1286.3 1766.6 1320.8 1766.6 1356.4 1766.6 1381.6 1766.6 1428.1M1766.6 1381.6L1845.6 1428.1M1766.6 1356.4L1757.2 1356.4 1757.9 1361 1759.9 1369 1757.9 1377.1 1760.6 1386.2 1761.8 1390.8 1759.5 1394.3 1746.8 1395.4 1728.5 1394.7 1715.8 1395.4 1705.5 1402.3 1694 1410.8 1682.5 1412 1672.2 1407.6 1666.4 1409.2 1659.5 1411.1 1650.3 1408.1 1637.7 1401.9 1623.9 1400 1611.3 1401.2 1599.8 1405.8 1586 1408.5M2061 270.6L2074.8 269 2086.3 267.4 2096.6 264.9 2105.8 266.5 2116.1 263.5 2121.9 264.4 2129.5 268.6 2141.4 271.3 2154.7 273.8 2160.9 269 2165.5 267.9 2185.1 270.6 2194.3 273.6 2203.5 276.4 2212.6 276.8 2226.4 275.2 2240.2 271.1 2252.2 269 2262.7 260.3 2267.8 243.8 2272.4 228.8 2275.8 209.3 2278.8 192.1 2282.7 187.5 2286.2 184.5 2290.3 182.9 2285 177.8 2278.8 184.5 2280.4 167.9 2282.7 148.4 2286.2 135.8 2288.9 128.9 2290.3 124.7 2300 130 2308 135.8 2312.6 143.8 2316 151.8 2318.3 155.3 2327.5 161.5 2321.8 155.3 2319.5 153.7 2316 143.8 2313.7 134.6 2310.3 128.9 2304.5 123.8 2295.4 119.2 2287.3 115.5 2282.7 113.2 2281.1 108.7 2294.2 110.5 2289.6 100.1 2285 100.1 2282 105.4 2277 99M2240.2 271.1L2242.5 275.5 2247.1 278.2 2255.1 280.5 2262 281.2 2267.3 282.8 2268.2 285.6 2267.3 289.2 2264.3 292 2262.7 294.8 2265.5 296.6 2270.1 297.1 2273.5 293.1 2275.8 294.3 2287.3 298.4 2300 302.3 2308 302.8 2311.9 303.5 2317.2 307.6 2324.1 312.7 2331 313.4 2339 312.2 2343.6 310.8 2350.5 313.8 2356.2 317.3 2360.8 320.5 2368.9 320 2379.2 318.9 2381.5 320 2390.7 319.6 2399.9 320.5 2407.9 320.5 2409.8 316.1 2410.7 310.4 2413.7 309.5 2426.3 312.7 2437.8 316.1 2449.3 319.1 2456.2 320.3 2459.6 323 2463.5 327.6 2467.2 324.9 2472.3 324.2 2481.5 326 2484.9 328.8 2483.8 332.2 2490.7 335.2 2496.4 338 2501 343 2504.4 343.7 2511.3 340.7 2515.9 339.1 2522.8 340.2 2532 342.5 2540.1 344.4 2546.9 344.8 2548.6 340.7 2557.3 339.1 2564.2 337 2568.8 336.1 2578 338 2586 338.9M2483.8 332.2L2479.2 334.5 2472.3 337.5 2465.4 338 2463.1 335.7 2463.5 327.6M2640 259.1L2634.7 260.5 2626.2 267.4 2612.4 274.3 2598.6 281.2 2590.1 285.6 2582.6 293.8 2575.7 303.5 2574.5 309.2 2576.1 318.4 2578 327.6 2584.9 335.7 2587.2 342.5 2591.8 345.3 2592.9 348.3 2588.3 349.9 2583 351.3 2582.1 357.5 2587.6 361.4 2588.8 372 2581.4 378.2 2572.2 383.9 2555 391.3 2538.9 398.1 2524.7 404.6 2517.1 411.5 2509 417.2 2495.2 420 2473.4 423.4 2451.6 428.7 2435.5 432.2 2430.9 436.1M2452.2 430L2436.1 432.8 2424.6 441 2414.3 448.4 2420 450.7 2425.8 455.7 2425.8 457.6 2417.7 461 2410.8 463.8 2405.8 462.9 2390.2 483.3 2375.2 498.5 2367.2 504.7 2359.1 513.9 2348.8 528.8 2342.4 538.4 2341.9 546 2345.4 556.4 2350.6 570.6 2355.7 577 2362.6 582.1 2374.5 586.2 2378.7 591.5 2374.5 595.9 2360.3 604.2 2347.7 609.9 2338.5 613.8 2329.3 621.2 2327.4 629.4 2320.5 632.9 2317.8 644.8 2312 656.3 2307.9 662.1 2308.6 664.4 2315.5 669.6 2309.8 672.4 2300.6 673.5 2273 674 2252.3 685 2241.3 696.1 2231.6 716.1 2219 728 2213.9 729.8 2206.4 724.8 2196 724.1 2185.7 725.9 2181.1 729.4 2173 731.7 2165 729.8M2449.2 581.2L2451.7 576.6 2454 575.9 2454.5 572.5 2457.3 569.5 2461.4 568.3 2472.4 566 2475.6 568.3 2476.3 572 2470.6 577 2467.1 579.8 2463.7 581 2461.4 584.6 2451.7 583ZM2461.4 593.6L2463.7 590.8 2468.3 594.3 2474 595 2475.2 597 2472.9 598.4 2461.4 597.7ZM2527.6 532.7L2541.8 524.7 2555.6 516.6 2564.8 512.3 2576.3 509.3 2582.7 507.7 2585 508.6 2583.2 510.9 2585 512.7 2582 516.9 2583.2 520.8 2587.8 522.4 2594.7 520.3 2600.4 521.2 2603.2 523.7 2603.4 527 2599.2 532.2 2594.7 536.8 2591.2 542.1 2588.2 547.6 2582 551.8 2576.3 554.1 2569.4 551.3 2563.6 549 2557.9 548.3 2555.1 546 2553.8 540.3 2551 538 2546.4 536.4 2541.8 538.4 2537.2 541.9 2534.5 538.4 2530.3 538 2527.6 535.7ZM2629.6 501.7L2633.7 500.8 2644.1 500.3 2649.8 501.7 2656.2 503.5 2660.1 508.6 2662.9 512.3 2661.7 515.5 2659.4 517.3 2652.1 514.6 2642.9 510.9 2637.2 509.3 2630.3 508.1 2629.1 505.8ZM2391.3 767.1L2399.4 763.2 2418.9 757 2431.5 751.2 2452.2 745.9 2498.2 742.9 2525.7 739.7 2543.6 740.6 2561.3 730.5 2569.4 727.5 2607.3 726.9 2624.5 720.2 2647.5 720 2692.3 720 2701.5 722.5 2708.8 725.9M2165 833.5L2168.4 840.9 2176.5 840.9 2183.4 842.7 2197.2 841.6 2212.1 843.4 2225.9 844.6 2232.8 843.9 2248.9 838.1 2262.6 828.9 2273.4 824.8 2282.2 815.1 2289.1 810.1 2301.7 803.7 2318.9 796.8 2335 790.6 2340.8 790.6 2351.1 794 2361.4 792.9 2367.7 788.3 2375.2 777.2 2386.7 770.3 2401.7 763 2412 760M2212.1 843.4L2214.4 848.5 2219 853.1 2229.3 859.9 2236.2 864.5 2241.5 868 2237.4 877.2 2239.7 881.8 2245.4 885.9 2244.3 888.7 2241.3 894 2244.3 900.2 2247.3 907.7 2248.2 919.7 2246.6 931.2 2247.7 940.4 2252.3 949.6 2250.5 958.7 2249.3 966.3 2252.3 974.8 2257.6 982.9 2259.2 990.9 2260.8 996.7 2263.8 1002.4 2269.5 1007.7 2277.6 1012.7 2287.9 1019.2 2291.4 1024.7 2279.4 1033.4 2277.6 1038.5 2279.4 1043.8 2280.6 1048.4 2277.6 1050.6 2240.8 1049.5 2194.9 1047.7 2176.5 1050.2 2165 1052.9M1420.2 1426.4L1403.6 1436.4 1388.8 1441.9 1379.8 1449 1371.9 1452.6 1367.9 1459.8 1366 1469.3 1364.3 1476 1358.8 1484.3 1356 1491.4 1351.7 1502.1 1345.7 1511.7 1342.4 1524 1341.7 1538.3M1586 1408.6L1579.8 1409.3 1582.1 1415.7 1585.2 1419.3 1584.5 1424 1582.9 1426.9 1577.4 1431.2 1572.6 1436.4 1567.9 1443.8 1561.9 1451.4 1559 1457.4 1557.1 1462.9 1553.6 1464 1545.2 1465 1535.7 1468.1 1533.3 1471.7 1532.1 1477.6 1526.2 1495.5 1521.4 1513.3 1517.1 1530 1514.3 1538.3M1536.9 1538.3L1536.9 1470.7 1766.7 1470.7 1766.7 1380M1845.6 1428.1L2032 1539M2640 259.2L2643.7 258.3 2650 263.3 2654 266 2676 270.8 2690 273.6 2696 270.8 2709 269.4"/>

</g>
</g>
<g stroke="#000" stroke-width="2" fill="none">
<path d="M160 1539v7M794 1539v7M1435 1539v7M2075 1539v7M2709 1539v7M160 99h-7M160 458h-7M160 823h-7M160 1181h-7M160 1539h-7" stroke-width="2"/>
<rect x="160" y="99" width="2549" height="1440"/>
</g>
<g>
<rect x="2038.2" y="1346" width="653" height="175" rx="5.5" ry="5.5" fill="#fff" fill-opacity="0.8" stroke="#cccccc" stroke-opacity="0.8" stroke-width="2.2"/>
<rect x="2053" y="1362" width="75" height="26" fill="#ffff00"/>
<rect x="2053" y="1417" width="75" height="26" fill="#ffa500"/>
<rect x="2053" y="1471" width="75" height="27" fill="#ff0000"/>
<text class="k" x="2158" y="1388">Convection possible</text>
<text class="k" x="2158" y="1443">Strong Convection possible</text>
<text class="k" x="2158" y="1498">Severe Convection possible</text>
</g>
<text class="t" x="160" y="45">Potential for deep convection and MSLP (hPa)</text>
<text class="t" x="160" y="88">ARPEGE 0.1º</text>
<text class="t" x="1434.5" y="88" text-anchor="middle">+75 hours</text>
<text class="t" x="2709.3" y="43.1" text-anchor="end">Run 2026-04-14 T 12Z</text>
<text class="t" x="2709.3" y="87.4" text-anchor="end">Forecast: Friday 2026-04-17 T 15Z</text>
<g class="k" text-anchor="end">
<text x="145" y="112.8">45.9°N</text>
<text x="145" y="470.8">40.7°N</text>
<text x="145" y="835.8">35.4°N</text>
<text x="145" y="1194.8">30.2°N</text>
<text x="145" y="1553.3">25°N</text>
</g>
<g class="k" text-anchor="middle">
<text x="160.7" y="1582">32°W</text>
<text x="794.7" y="1582">22.8°W</text>
<text x="1435.7" y="1582">13.5°W</text>
<text x="2075.5" y="1582">4.2°W</text>
</g>
<text class="k" x="2709.8" y="1582" text-anchor="middle">5°E</text>

</svg>
</body></html>
